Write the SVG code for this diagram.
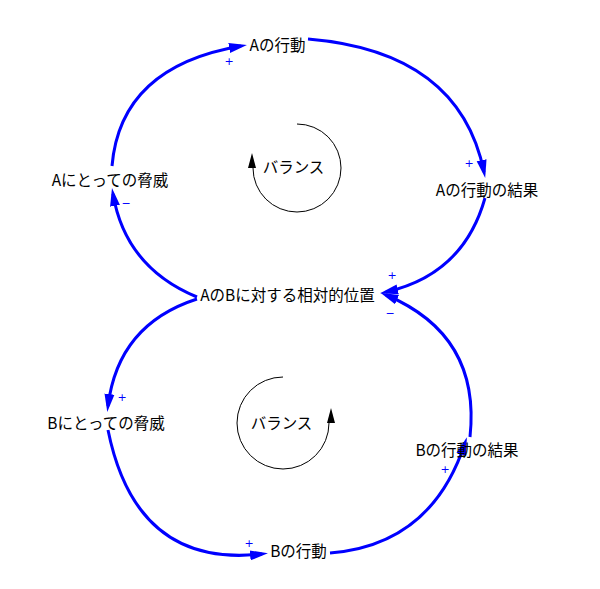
<svg xmlns="http://www.w3.org/2000/svg" width="600" height="589" viewBox="0 0 600 589">
<style>
.lbl{font-family:"Noto Sans CJK JP","Noto Sans",sans-serif;font-size:15.5px;fill:#000;text-anchor:middle}
.pol{font-family:"DejaVu Sans","Noto Sans",sans-serif;font-size:11px;fill:#0000FF;text-anchor:middle}
.link{fill:none;stroke:#0000FF;stroke-width:3;marker-end:url(#ah)}
.loop{fill:none;stroke:#000;stroke-width:1}
</style>
<defs>
<marker id="ah" markerUnits="userSpaceOnUse" markerWidth="20" markerHeight="12" viewBox="0 0 20 12" refX="12" refY="6" orient="auto">
<path d="M0,1 L18,6 L0,11 Z" fill="#0000FF"/>
</marker>
</defs>
<rect width="600" height="589" fill="#fff"/>
<g id="connectors">
<path class="link" d="M112,166 Q120.5,66.5 241,46"/>
<path class="link" d="M308,39 Q459.5,51.5 484,172"/>
<path class="link" d="M485,198 Q463.5,274.5 386,292"/>
<path class="link" d="M197,297 Q125.5,267.5 113,194"/>
<path class="link" d="M197,299 Q118,324.5 108,406"/>
<path class="link" d="M108,430 Q136,568.5 262,554"/>
<path class="link" d="M330,553 Q431.5,545 465,443"/>
<path class="link" d="M470,437 Q481,335 386,295"/>
</g>
<g id="polarities">
<text class="pol" x="229" y="65">+</text>
<text class="pol" x="469" y="167">+</text>
<text class="pol" x="392" y="279">+</text>
<text class="pol" x="126" y="207">−</text>
<text class="pol" x="122" y="401">+</text>
<text class="pol" x="390" y="317">−</text>
<text class="pol" x="445" y="473">+</text>
<text class="pol" x="249" y="547">+</text>
</g>
<g id="n_a_action"><text class="lbl" x="277.5" y="50.5">Aの行動</text></g>
<g id="n_a_result"><text class="lbl" x="487" y="195.5">Aの行動の結果</text></g>
<g id="n_position"><text class="lbl" x="287.5" y="301">AのBに対する相対的位置</text></g>
<g id="n_a_threat"><text class="lbl" x="110" y="185.5">Aにとっての脅威</text></g>
<g id="n_b_threat"><text class="lbl" x="106" y="428.5">Bにとっての脅威</text></g>
<g id="n_b_result"><text class="lbl" x="467" y="455.5">Bの行動の結果</text></g>
<g id="n_b_action"><text class="lbl" x="298.5" y="557">Bの行動</text></g>
<g id="loop_top">
<path class="loop" d="M297,124 A44,44 0 1 1 253,168"/>
<path d="M252,153 L248,168 L256,168 Z" fill="#000"/>
<text class="lbl" x="293.5" y="172.5">バランス</text>
</g>
<g id="loop_bottom">
<path class="loop" d="M283,377 A46,46 0 1 0 329,423"/>
<path d="M331,408 L327,423 L335,423 Z" fill="#000"/>
<text class="lbl" x="281.5" y="429">バランス</text>
</g>
</svg>
